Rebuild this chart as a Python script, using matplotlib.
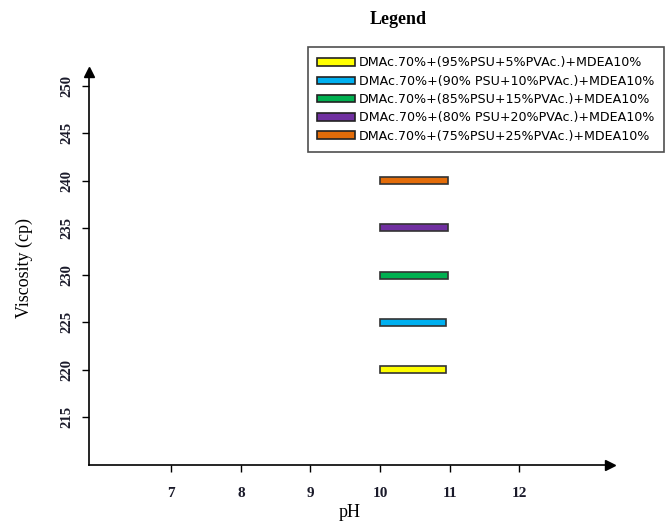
import matplotlib.pyplot as plt
from matplotlib.patches import Patch

# data
ph_ticks = [7, 8, 9, 10, 11, 12]
visc_ticks = [215, 220, 225, 230, 235, 240, 245, 250]
ph_start = [10, 10, 10, 10, 10]
ph_end = [10.95, 10.95, 10.98, 10.98, 10.98]
viscosity = [220, 225, 230, 235, 240]
colors = ['#ffff00', '#00b0f0', '#00b050', '#7030a0', '#e36c09']
labels = ['DMAc.70%+(95%PSU+5%PVAc.)+MDEA10%',
          'DMAc.70%+(90% PSU+10%PVAc.)+MDEA10%',
          'DMAc.70%+(85%PSU+15%PVAc.)+MDEA10%',
          'DMAc.70%+(80% PSU+20%PVAc.)+MDEA10%',
          'DMAc.70%+(75%PSU+25%PVAc.)+MDEA10%']

fig = plt.figure(figsize=(6.71, 5.22), dpi=100)
ax = fig.add_axes([89/671, 1 - 465/522, (610-89)/671, (465-72)/522])

for x0, x1, v, c in zip(ph_start, ph_end, viscosity, colors):
    ax.barh(v, x1 - x0, left=x0, height=0.75, color=c, edgecolor='#333333', linewidth=1.2)

ax.set_xlim(5.82, 13.3)
ax.set_ylim(209.9, 251.5)
ax.set_xticks(ph_ticks)
ax.set_yticks(visc_ticks)
ax.set_xticklabels([str(t) for t in ph_ticks], family='Liberation Serif', fontweight='bold',
                   fontsize=11, color='#1a1a2a')
ax.set_yticklabels([str(t) for t in visc_ticks], family='Liberation Serif', fontweight='bold',
                   fontsize=10.5, color='#1a1a2a', rotation=90, va='center')
ax.tick_params(axis='both', direction='out', length=5, width=1)
ax.tick_params(axis='x', pad=11)
ax.tick_params(axis='y', pad=6)

for s in ['top', 'right']:
    ax.spines[s].set_visible(False)
for s in ['left', 'bottom']:
    ax.spines[s].set_linewidth(1.2)

# arrow heads on the axes
ax.plot(1, 0, '>k', markersize=7, transform=ax.transAxes, clip_on=False)
ax.plot(0, 1, '^k', markersize=7, transform=ax.transAxes, clip_on=False)

ax.set_xlabel('pH', family='Liberation Serif', fontsize=13, labelpad=3)
ax.set_ylabel('Viscosity (cp)', family='Liberation Serif', fontsize=13, labelpad=20)

fig.text(398/671, 1 - 20/522, 'Legend', family='Liberation Serif', fontweight='bold',
         fontsize=13, ha='center', va='center')

handles = [Patch(facecolor=c, edgecolor='#222222', linewidth=1.2) for c in colors]
leg = fig.legend(handles, labels, loc='upper left',
                 bbox_to_anchor=(308/671, 1 - 47/522), frameon=True, fancybox=False,
                 prop={'family': 'DejaVu Sans', 'size': 9.1},
                 handlelength=3.0, handleheight=0.55, handletextpad=0.3,
                 labelspacing=0.42, borderpad=0.75, borderaxespad=0)
leg.get_frame().set_edgecolor('#222222')
leg.get_frame().set_linewidth(1.2)

fig.savefig('out.png', dpi=100)
